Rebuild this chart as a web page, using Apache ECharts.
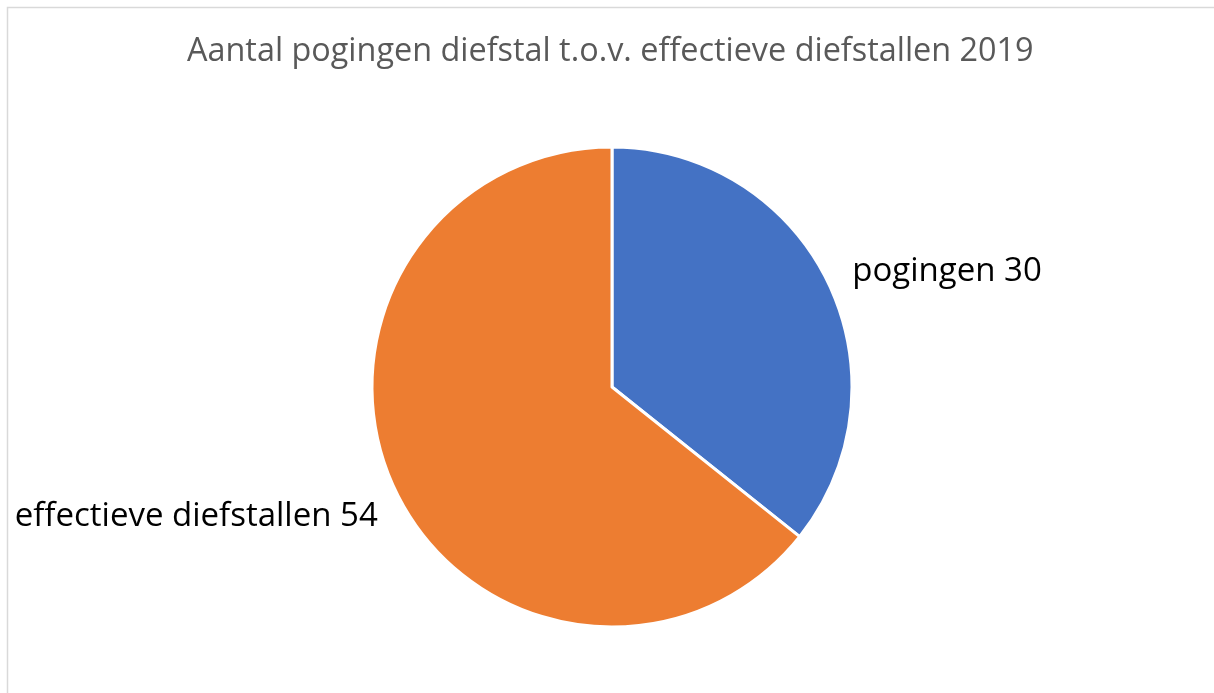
<!DOCTYPE html>
<html>
<head>
<meta charset="utf-8">
<script src="https://cdn.jsdelivr.net/npm/echarts@6/dist/echarts.min.js"></script>
<style>
  html, body { margin: 0; padding: 0; background: #fff; }
  #main { width: 1214px; height: 693px; }
</style>
</head>
<body>
<div id="main"></div>
<script>
var chartTitle = 'Aantal pogingen diefstal t.o.v. effectieve diefstallen 2019';
var categories = ['pogingen', 'effectieve diefstallen'];
var values = [30, 54];
var colors = ['#4472C4', '#ED7D31'];

var fontFam = '"Open Sans", sans-serif';

var myChart = echarts.init(document.getElementById('main'));

var pieData = [];
for (var i = 0; i < categories.length; i++) {
    pieData.push({
        name: categories[i],
        value: values[i],
        itemStyle: { color: colors[i] }
    });
}

// small nudges so the labels sit where Excel put them
var labelNudgeX = [0, 6];
var labelNudgeY = [-7, 21];

var option = {
    backgroundColor: '#fff',
    animation: false,
    title: {
        text: chartTitle,
        left: 182,
        top: 31,
        textStyle: {
            fontFamily: fontFam,
            fontSize: 32.4,
            fontWeight: 'normal',
            color: '#595959'
        }
    },
    graphic: [{
        type: 'rect',
        shape: { x: 7.5, y: 7.5, width: 1230, height: 720 },
        style: { fill: 'none', stroke: '#d9d9d9', lineWidth: 1.5 },
        silent: true
    }],
    series: [{
        type: 'pie',
        center: [612, 387],
        radius: 240,
        startAngle: 90,
        clockwise: true,
        data: pieData,
        itemStyle: { borderColor: '#fff', borderWidth: 3 },
        label: {
            show: true,
            position: 'outside',
            formatter: '{b} {c}',
            fontFamily: fontFam,
            fontSize: 33,
            color: '#000',
            overflow: 'none'
        },
        labelLine: { show: false, length: 10, length2: 10 },
        labelLayout: function (params) {
            return {
                dx: labelNudgeX[params.dataIndex],
                dy: labelNudgeY[params.dataIndex]
            };
        }
    }]
};

myChart.setOption(option);
</script>
</body>
</html>
